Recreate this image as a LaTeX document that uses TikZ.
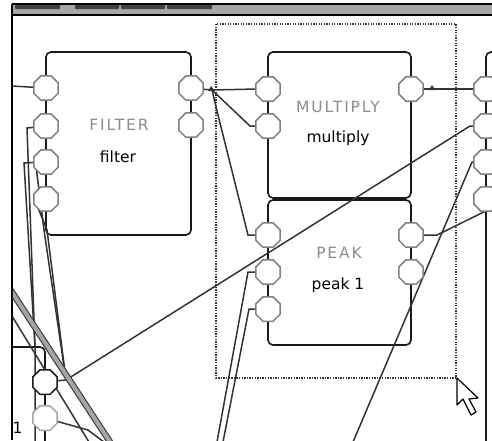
\documentclass[tikz,border=0pt]{standalone}
\usepackage{fontspec}
\setmainfont{DejaVu Sans}
\usepackage{tikz}
\usetikzlibrary{shapes.geometric}

\tikzset{
  block/.style={rectangle, rounded corners=5pt, draw=black!90, line width=1.6pt, inner sep=0pt},
  port/.style={regular polygon, regular polygon sides=8, minimum size=26.5pt,
    inner sep=0pt, draw=black!50, line width=1.5pt, fill=white},
  wire/.style={draw=black!80, line width=1.5pt},
  band/.style={draw=black!75, line width=1.2pt, double=black!35, double distance=4pt},
  selbox/.style={draw=black!80, line width=1.3pt, dash pattern=on 1.3pt off 1.3pt},
  typename/.style={text=black!45, inner sep=0pt,
    font=\fontsize{15.5}{18}\selectfont\addfontfeature{LetterSpace=12}},
  instname/.style={text=black, inner sep=0pt, font=\fontsize{15.5}{18}\selectfont},
}

\begin{document}
\begin{tikzpicture}[x=1pt,y=-1pt]
    \useasboundingbox (0,0) rectangle (492,440);

    % Window frame
    \fill[black!35] (12,4) rectangle (492,15);
    \foreach \a/\b in {15/60,75/119,121/165,167/212}
        \fill[black!75, rounded corners=1pt] (\a,4) rectangle (\b,9);
    \draw[line width=1.2pt] (12,4) -- (492,4);
    \draw[line width=1.5pt] (12,15) -- (492,15);
    \draw[line width=1.5pt] (12,4) -- (12,440);

    \begin{scope}
    \clip (12.75,15.75) rectangle (492,440);

    % Selection
    \draw[selbox] (216,24) rectangle (456,378);

    % Blocks
    \node[block, minimum width=145pt, minimum height=183pt] (filter) at (118.5,143.5) {};
    \node[block, minimum width=143pt, minimum height=146pt] (multiply) at (339.5,125) {};
    \node[block, minimum width=143pt, minimum height=145pt] (peak) at (339.5,272.5) {};
    \node[block, minimum width=150pt, minimum height=448pt] (next) at (561,276) {};
    \node[block, minimum width=100pt, minimum height=200pt] (source) at (-5,447) {};

    % Wires
    \coordinate (fj) at (212,90);
    \coordinate (mj) at (432,89);
    \coordinate (sj) at (66,380);
    \coordinate (e1) at (496,206);
    \coordinate (f1) at (353,442);
    \coordinate (f2) at (217,442);
    \coordinate (f3) at (223,442);
    \coordinate (f4) at (35,442);
    \coordinate (w0) at (12,86);
    \coordinate (b1) at (6,283);
    \coordinate (b2) at (112,445);
    \coordinate (t1) at (12,316);
    \coordinate (t2) at (89,442);
    \coordinate (t3) at (104,442);

    \draw[wire] (191,88) -- (fj) -- (257,89);
    \draw[wire] (fj) -- (250,126) -- (257,126);
    \draw[wire] (fj) -- (218,115) -- (248,235) -- (257,235);
    \draw[wire] (411,89) -- (mj) -- (486,89);
    \draw[wire] (411,235) -- (437,235) -- (e1);
    \draw[wire] (f1) -- (472,162) -- (486,162);
    \draw[wire] (45,382) -- (sj) -- (470,126) -- (486,126);
    \draw[wire] (f2) -- (248,272) -- (257,272);
    \draw[wire] (f3) -- (249,309) -- (257,309);
    \draw[wire] (w0) -- (46,88);
    \draw[wire] (46,126) -- (27,128) -- (35,347) -- (f4);
    \draw[wire] (46,162) -- (24,163) -- (35,347);
    \draw[wire] (36,166) -- (44,230) -- (sj);
    \draw[wire] (36,203) -- (47,230) -- (sj);
    \draw[band] (b1) -- (b2);
    \draw[wire] (t1) -- (t2);
    \draw[wire] (45,418) -- (88,430) -- (t3);
    \fill[black!80] (208,91) -- (211,86) -- (215,91) -- cycle;
    \fill[black!80] (429,90) -- (432,85) -- (435,90) -- cycle;

    % Ports
    \node[port] (fi1) at (46,88) {};
    \node[port] (fi2) at (46,126) {};
    \node[port] (fi3) at (46,162) {};
    \node[port] (fi4) at (46,199) {};
    \node[port] (fo1) at (191,88) {};
    \node[port] (fo2) at (191,125) {};
    \node[port] (mi1) at (268,89) {};
    \node[port] (mi2) at (268,126) {};
    \node[port] (mo1) at (411,89) {};
    \node[port] (pi1) at (268,235) {};
    \node[port] (pi2) at (268,272) {};
    \node[port] (pi3) at (268,309) {};
    \node[port] (po1) at (411,235) {};
    \node[port] (po2) at (411,272) {};
    \node[port] (ni1) at (486,89) {};
    \node[port] (ni2) at (486,126) {};
    \node[port] (ni3) at (486,162) {};
    \node[port] (ni4) at (486,199) {};
    \node[port, draw=black!90] (so1) at (45,382) {};
    \node[port, draw=black!35] (so2) at (45,418) {};

    % Labels
    \node[typename] (filtertype) at (119,125) {FILTER};
    \node[instname] (filtername) at (118,157) {filter};
    \node[typename] (multiplytype) at (338,107) {MULTIPLY};
    \node[instname] (multiplyname) at (338,138) {multiply};
    \node[typename] (peaktype) at (339,253) {PEAK};
    \node[instname] (peakname) at (338,285) {peak 1};
    \node[instname, anchor=north west] (sourcename) at (12.5,422) {1};

    % Pointer
    \draw[fill=white, line width=1.2pt, line join=round]
        (457,378) -- (457,405) -- (463,399) -- (471,415) -- (476,412) -- (469,399) -- (478,398) -- cycle;
    \end{scope}
\end{tikzpicture}
\end{document}
